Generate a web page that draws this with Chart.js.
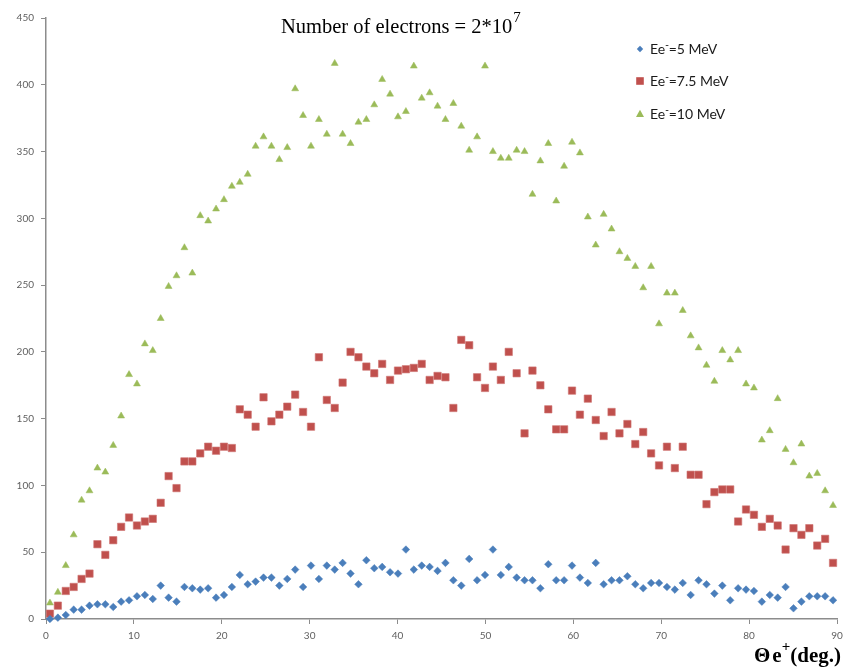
<!DOCTYPE html>
<html>
<head>
<meta charset="utf-8">
<title>Number of electrons</title>
<script src="https://cdn.jsdelivr.net/npm/chart.js"></script>
<style>
  html, body { margin: 0; padding: 0; background: #fff; }
  canvas { display: block; }
</style>
</head>
<body>
<canvas id="myChart" width="857" height="670"></canvas>
<script>
// positron angle (deg.), one bin every 0.9 degree
var theta = [
  0.45, 1.35, 2.25, 3.15, 4.05, 4.95, 5.85, 6.75, 7.65, 8.55,
  9.45, 10.35, 11.25, 12.15, 13.05, 13.95, 14.85, 15.75, 16.65, 17.55,
  18.45, 19.35, 20.25, 21.15, 22.05, 22.95, 23.85, 24.75, 25.65, 26.55,
  27.45, 28.35, 29.25, 30.15, 31.05, 31.95, 32.85, 33.75, 34.65, 35.55,
  36.45, 37.35, 38.25, 39.15, 40.05, 40.95, 41.85, 42.75, 43.65, 44.55,
  45.45, 46.35, 47.25, 48.15, 49.05, 49.95, 50.85, 51.75, 52.65, 53.55,
  54.45, 55.35, 56.25, 57.15, 58.05, 58.95, 59.85, 60.75, 61.65, 62.55,
  63.45, 64.35, 65.25, 66.15, 67.05, 67.95, 68.85, 69.75, 70.65, 71.55,
  72.45, 73.35, 74.25, 75.15, 76.05, 76.95, 77.85, 78.75, 79.65, 80.55,
  81.45, 82.35, 83.25, 84.15, 85.05, 85.95, 86.85, 87.75, 88.65, 89.55
];

var e5 = [
  0, 1, 3, 7, 7, 10, 11, 11, 9, 13,
  14, 17, 18, 15, 25, 16, 13, 24, 23, 22,
  23, 16, 18, 24, 33, 26, 28, 31, 31, 25,
  30, 37, 24, 40, 30, 40, 37, 42, 34, 26,
  44, 38, 39, 35, 34, 52, 37, 40, 39, 36,
  42, 29, 25, 45, 29, 33, 52, 33, 39, 31,
  29, 29, 23, 41, 29, 29, 40, 31, 27, 42,
  26, 29, 29, 32, 26, 23, 27, 27, 24, 22,
  27, 18, 29, 26, 19, 25, 14, 23, 22, 21,
  13, 18, 16, 24, 8, 13, 17, 17, 17, 14
];

var e75 = [
  4, 10, 21, 24, 30, 34, 56, 48, 59, 69,
  76, 70, 73, 75, 87, 107, 98, 118, 118, 124,
  129, 126, 129, 128, 157, 153, 144, 166, 148, 153,
  159, 168, 155, 144, 196, 164, 158, 177, 200, 196,
  189, 184, 191, 179, 186, 187, 188, 191, 179, 182,
  181, 158, 209, 205, 181, 173, 189, 179, 200, 184,
  139, 186, 175, 157, 142, 142, 171, 153, 165, 149,
  137, 155, 139, 146, 131, 140, 124, 115, 129, 113,
  129, 108, 108, 86, 95, 97, 97, 73, 82, 78,
  69, 75, 70, 52, 68, 63, 68, 55, 60, 42
];

var e10 = [
  12, 20, 40, 63, 89, 96, 113, 110, 130, 152,
  183, 176, 206, 201, 225, 249, 257, 278, 259, 302,
  298, 307, 314, 324, 327, 333, 354, 361, 354, 344,
  353, 397, 377, 354, 374, 363, 416, 363, 356, 372,
  374, 385, 404, 393, 376, 380, 414, 390, 394, 384,
  374, 386, 369, 351, 361, 414, 350, 345, 345, 351,
  350, 318, 343, 356, 313, 339, 357, 349, 301, 280,
  303, 292, 275, 270, 264, 248, 264, 221, 244, 244,
  231, 212, 203, 190, 178, 201, 194, 201, 176, 173,
  134, 141, 165, 127, 117, 131, 107, 109, 96, 85
];

var legendLabels = ['=5 MeV', '=7.5 MeV', '=10 MeV'];
var colors = ['#4a7ebb', '#c0504d', '#9bbb59'];

function points(vals) {
  var out = [];
  for (var i = 0; i < vals.length; i++) {
    out.push({ x: theta[i], y: vals[i] });
  }
  return out;
}

function marker(ctx, style, x, y, r, color) {
  ctx.save();
  ctx.fillStyle = color;
  ctx.beginPath();
  if (style == 'rectRot') {
    ctx.moveTo(x - r, y);
    ctx.lineTo(x, y - r);
    ctx.lineTo(x + r, y);
    ctx.lineTo(x, y + r);
  } else if (style == 'rect') {
    ctx.rect(x - r, y - r, 2 * r, 2 * r);
  } else {
    ctx.moveTo(x, y - r);
    ctx.lineTo(x + r * 0.95, y + r * 0.7);
    ctx.lineTo(x - r * 0.95, y + r * 0.7);
  }
  ctx.closePath();
  ctx.fill();
  ctx.restore();
}

// title, axis caption and legend are drawn by hand (superscripts)
var textPlugin = {
  id: 'texts',
  afterDraw: function (chart) {
    var ctx = chart.ctx;
    ctx.save();
    ctx.fillStyle = '#000';
    ctx.textBaseline = 'alphabetic';
    ctx.textAlign = 'left';

    // title
    ctx.font = '20.5px "Liberation Serif", "Times New Roman", serif';
    var t = 'Number of electrons = 2*10';
    var tx = 281;
    ctx.fillText(t, tx, 33);
    var tw = ctx.measureText(t).width;
    ctx.font = '15px "Liberation Serif", "Times New Roman", serif';
    ctx.fillText('7', tx + tw + 1, 22);

    // x axis caption
    ctx.font = 'bold 21px "Liberation Serif", "Times New Roman", serif';
    var cx = 754;
    ctx.fillText('\u0398', cx, 662);
    cx += ctx.measureText('\u0398').width + 2;
    ctx.fillText('e', cx, 662);
    cx += ctx.measureText('e').width;
    ctx.font = 'bold 15px "Liberation Serif", "Times New Roman", serif';
    ctx.fillText('+', cx, 651);
    cx += ctx.measureText('+').width;
    ctx.font = 'bold 21px "Liberation Serif", "Times New Roman", serif';
    ctx.fillText('(deg.)', cx, 662);

    // legend
    var styles = ['rectRot', 'rect', 'triangle'];
    var sizes = [3.2, 3.8, 4.2];
    var rows = [49, 81, 114];
    for (var i = 0; i < 3; i++) {
      marker(ctx, styles[i], 640, rows[i], sizes[i], colors[i]);
      var lx = 650;
      var ly = rows[i] + 5;
      ctx.fillStyle = '#1a1a1a';
      ctx.font = '14px Lato, "Open Sans", sans-serif';
      ctx.fillText('Ee', lx, ly);
      lx += ctx.measureText('Ee').width;
      ctx.font = '10px "DejaVu Sans", sans-serif';
      ctx.fillText('-', lx, ly - 6);
      lx += ctx.measureText('-').width;
      ctx.font = '14px Lato, "Open Sans", sans-serif';
      ctx.fillText(legendLabels[i], lx, ly);
    }
    ctx.restore();
  }
};

var myChart = document.getElementById('myChart').getContext('2d');
var chart = new Chart(myChart, {
  type: 'scatter',
  data: {
    datasets: [
      {
        label: 'Ee-=5 MeV',
        data: points(e5),
        pointStyle: 'rectRot',
        pointRadius: 3.8,
        backgroundColor: colors[0],
        borderColor: colors[0],
        borderWidth: 0.5,
        clip: false
      },
      {
        label: 'Ee-=7.5 MeV',
        data: points(e75),
        pointStyle: 'rect',
        pointRadius: 5.2,
        backgroundColor: colors[1],
        borderColor: '#cf7472',
        borderWidth: 0.6,
        clip: false
      },
      {
        label: 'Ee-=10 MeV',
        data: points(e10),
        pointStyle: 'triangle',
        pointRadius: 4,
        backgroundColor: colors[2],
        borderColor: colors[2],
        borderWidth: 0.5,
        clip: false
      }
    ]
  },
  options: {
    responsive: false,
    animation: false,
    layout: { padding: { top: 18, right: 20, left: 0, bottom: 0 } },
    plugins: {
      legend: { display: false },
      title: { display: false },
      tooltip: { enabled: false }
    },
    scales: {
      x: {
        type: 'linear',
        min: 0,
        max: 90,
        ticks: {
          stepSize: 10,
          color: '#5f5f5f',
          padding: 6,
          font: { family: 'Lato', size: 10 }
        },
        grid: {
          display: true,
          drawOnChartArea: false,
          drawTicks: true,
          tickLength: 5,
          color: '#8c8c8c'
        },
        border: { color: '#8c8c8c', width: 1.5 },
        afterFit: function (scale) { scale.height = 51; }
      },
      y: {
        min: 0,
        max: 450,
        ticks: {
          stepSize: 50,
          color: '#5f5f5f',
          padding: 7,
          font: { family: 'Lato', size: 10 }
        },
        grid: {
          display: true,
          drawOnChartArea: false,
          drawTicks: true,
          tickLength: 5,
          color: '#8c8c8c'
        },
        border: { color: '#8c8c8c', width: 1.5 },
        afterFit: function (scale) { scale.width = 46; }
      }
    }
  },
  plugins: [textPlugin]
});
</script>
</body>
</html>
